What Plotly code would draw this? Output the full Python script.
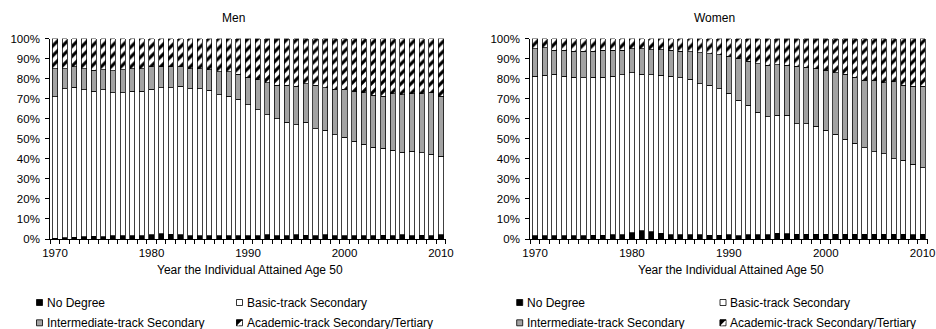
import plotly.graph_objects as go

# Share of each cohort (%) by highest degree, by year the individual attained age 50
years = list(range(1970, 2011))

men_no_degree = [0.5, 0.7, 0.8, 1.1, 1.3, 1.1, 1.5, 1.5, 1.6, 1.6,
                 2.0, 2.5, 2.3, 2.2, 1.7, 1.7, 1.7, 1.7, 1.7, 1.6,
                 1.5, 1.7, 2.0, 1.7, 1.7, 2.2, 1.8, 1.7, 2.0, 1.7,
                 1.7, 1.7, 1.5, 1.7, 1.8, 1.7, 2.0, 1.7, 1.8, 1.7, 2.0]
men_basic = [70.5, 74.3, 75.0, 73.4, 72.5, 73.4, 71.5, 71.5, 72.2, 72.2,
             72.8, 73.0, 73.2, 74.0, 73.3, 73.3, 72.5, 70.3, 69.6, 68.1,
             65.5, 62.8, 60.0, 58.3, 56.6, 54.8, 56.5, 53.3, 52.2, 50.3,
             49.1, 47.1, 45.7, 44.1, 43.5, 42.5, 41.3, 42.1, 41.2, 40.5, 39.2]
men_intermediate = [14.0, 10.0, 10.0, 10.5, 10.4, 10.0, 10.8, 11.5, 11.2, 11.2,
                    11.0, 10.3, 10.3, 9.6, 10.0, 10.0, 10.3, 11.3, 12.0, 12.5,
                    13.8, 15.0, 16.0, 16.7, 18.4, 19.2, 19.2, 21.7, 21.3, 22.7,
                    23.9, 25.0, 25.8, 25.9, 26.0, 28.3, 28.7, 28.7, 29.5, 30.8, 30.0]
men_academic = [15.0, 15.0, 14.2, 15.0, 15.8, 15.5, 16.2, 15.5, 15.0, 15.0,
                14.2, 14.2, 14.2, 14.2, 15.0, 15.0, 15.5, 16.7, 16.7, 17.8,
                19.2, 20.5, 22.0, 23.3, 23.3, 23.8, 22.5, 23.3, 24.5, 25.3,
                25.3, 26.2, 27.0, 28.3, 28.7, 27.5, 28.0, 27.5, 27.5, 27.0, 28.8]

women_no_degree = [1.7, 1.7, 1.7, 1.7, 1.5, 1.7, 1.8, 1.8, 2.0, 2.2,
                   3.0, 4.2, 3.7, 2.8, 2.2, 2.2, 2.2, 2.0, 1.8, 1.8,
                   2.0, 1.7, 2.0, 2.0, 2.0, 2.8, 2.5, 2.3, 2.3, 2.3,
                   2.3, 2.3, 2.3, 2.3, 2.3, 2.3, 2.3, 2.3, 2.3, 2.2, 2.3]
women_basic = [79.5, 80.0, 80.5, 79.5, 79.2, 78.7, 78.9, 78.9, 79.2, 79.8,
               79.9, 78.0, 78.3, 78.9, 79.0, 78.2, 77.4, 75.4, 74.8, 73.1,
               70.6, 67.4, 64.6, 61.3, 59.0, 59.0, 59.1, 55.2, 55.2, 54.0,
               51.9, 49.9, 47.4, 45.4, 43.2, 41.2, 40.2, 37.7, 36.9, 35.0, 33.2]
women_intermediate = [13.8, 13.6, 12.0, 13.0, 13.0, 13.3, 13.0, 13.5, 13.0, 12.2,
                      12.0, 12.7, 12.5, 12.8, 13.0, 13.3, 13.8, 15.5, 15.8, 17.1,
                      18.6, 20.9, 22.1, 24.1, 25.7, 25.2, 25.1, 28.7, 28.2, 28.6,
                      29.9, 30.7, 32.4, 33.0, 33.6, 35.6, 35.4, 38.4, 37.5, 39.0, 40.7]
women_academic = [5.0, 4.7, 5.8, 5.8, 6.3, 6.3, 6.3, 5.8, 5.8, 5.8,
                  5.1, 5.1, 5.5, 5.5, 5.8, 6.3, 6.6, 7.1, 7.6, 8.0,
                  8.8, 10.0, 11.3, 12.6, 13.3, 13.0, 13.3, 13.8, 14.3, 15.1,
                  15.9, 17.1, 17.9, 19.3, 20.9, 20.9, 22.1, 21.6, 23.3, 23.8, 23.8]

category_names = ["No Degree", "Basic-track Secondary",
                  "Intermediate-track Secondary", "Academic-track Secondary/Tertiary"]
panel_titles = ["Men", "Women"]
x_title = "Year the Individual Attained Age 50"
year_ticks = [1970, 1980, 1990, 2000, 2010]
pct_ticks = list(range(0, 101, 10))

W, H = 936, 329
FONT = "Liberation Sans, Arial, sans-serif"
GRAY = "#a3a3a3"
OUTLINE = dict(color="black", width=0.75)
TEXT = 12
TICK = 11.5


def px_x(x):
    return x / W


def px_y(y):
    return 1 - y / H


styles = [
    dict(color="black"),
    dict(color="white"),
    dict(color=GRAY),
    dict(color="white", pattern=dict(shape="/", fgcolor="black", bgcolor="white",
                                     size=7, solidity=0.45)),
]

fig = go.Figure()
panels = [
    ("x", "y", [men_no_degree, men_basic, men_intermediate, men_academic]),
    ("x2", "y2", [women_no_degree, women_basic, women_intermediate, women_academic]),
]
for xa, ya, series in panels:
    for name, vals, st in zip(category_names, series, styles):
        fig.add_trace(go.Bar(
            x=years, y=vals, name=name, xaxis=xa, yaxis=ya,
            marker=dict(line=OUTLINE, **st), showlegend=False,
            hovertemplate="%{x}: %{y:.1f}%<extra>" + name + "</extra>",
        ))

# plot-area extents in pixels: (left, right)
x_domains = [(50.2, 445.8), (530.2, 927.5)]
y_top, y_bot = 38.5, 239.0

axis_common = dict(showline=True, linecolor="black", linewidth=1, automargin=False,
                   tickfont=dict(family=FONT, size=TICK, color="black"),
                   showgrid=False, zeroline=False)

layout = dict(
    template="none",
    width=W, height=H,
    margin=dict(l=0, r=0, t=0, b=0, autoexpand=False),
    paper_bgcolor="white", plot_bgcolor="white",
    barmode="stack", bargap=0.47,
    font=dict(family=FONT, size=TEXT, color="black"),
    showlegend=False,
)
for i, (l, r) in enumerate(x_domains):
    sfx = "" if i == 0 else str(i + 1)
    layout["xaxis" + sfx] = dict(
        axis_common, domain=[px_x(l), px_x(r)], range=[1969.5, 2010.5],
        anchor="y" + sfx, tickmode="array", tickvals=year_ticks,
        ticktext=[str(v) for v in year_ticks], ticks="", ticklabelstandoff=3,
        minor=dict(ticks="outside", ticklen=4, tickcolor="black",
                   tick0=1969.5, dtick=1, showgrid=False),
    )
    layout["yaxis" + sfx] = dict(
        axis_common, domain=[px_y(y_bot), px_y(y_top)], range=[0, 100],
        anchor="x" + sfx, tickmode="array", tickvals=pct_ticks,
        ticktext=[f"{v}%" for v in pct_ticks], ticks="outside", ticklen=4,
        tickcolor="black", ticklabelstandoff=3,
    )
fig.update_layout(**layout)

# panel titles and axis titles
title_x = [233.5, 714.5]
xtitle_x = [250.0, 731.0]
for t, tx, ax in zip(panel_titles, title_x, xtitle_x):
    fig.add_annotation(x=px_x(tx), y=px_y(17.5), xref="paper", yref="paper",
                       text=t, showarrow=False, xanchor="center", yanchor="middle",
                       font=dict(family=FONT, size=TEXT, color="black"))
    fig.add_annotation(x=px_x(ax), y=px_y(270), xref="paper", yref="paper",
                       text=x_title, showarrow=False, xanchor="center", yanchor="middle",
                       font=dict(family=FONT, size=TEXT, color="black"))

# legends: two rows of two keys under each panel
legend_cols = [(36.5, 236.5), (516.7, 720.0)]
legend_rows = [302.5, 322.8]
key = 6.0
slots = [(0, 0), (1, 0), (0, 1), (1, 1)]  # (column, row) per category
fills = ["black", "white", GRAY, "white"]
for cols in legend_cols:
    for idx, (c, r) in enumerate(slots):
        x0 = cols[c]
        yc = legend_rows[r]
        fig.add_shape(type="rect", xref="paper", yref="paper",
                      x0=px_x(x0), x1=px_x(x0 + key),
                      y0=px_y(yc + key / 2), y1=px_y(yc - key / 2),
                      fillcolor=fills[idx], line=dict(color="black", width=0.8))
        if idx == 3:
            # diagonal hatch inside the academic-track key
            pts = [(x0, yc - key / 2), (x0 + key, yc - key / 2), (x0, yc + key / 2)]
            path = "M " + " L ".join(f"{px_x(a)},{px_y(b)}" for a, b in pts) + " Z"
            fig.add_shape(type="path", xref="paper", yref="paper", path=path,
                          fillcolor="black", line=dict(color="black", width=0.5))
            fig.add_shape(type="line", xref="paper", yref="paper",
                          x0=px_x(x0 + 1.5), y0=px_y(yc + key / 2 - 0.5),
                          x1=px_x(x0 + key - 0.5), y1=px_y(yc - key / 2 + 1.5),
                          line=dict(color="white", width=1.2))
        fig.add_annotation(x=px_x(x0 + key + 2.0), y=px_y(yc), xref="paper", yref="paper",
                           text=category_names[idx], showarrow=False,
                           xanchor="left", yanchor="middle",
                           font=dict(family=FONT, size=TEXT, color="black"))

fig.write_html("out.html")
